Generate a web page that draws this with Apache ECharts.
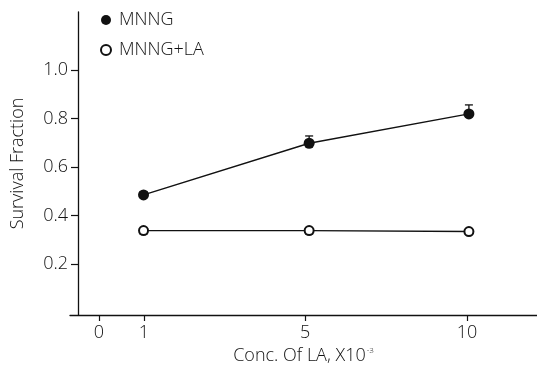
<!DOCTYPE html>
<html>
<head>
<meta charset="utf-8">
<script src="https://cdn.jsdelivr.net/npm/echarts@6/dist/echarts.min.js"></script>
<style>
  html, body { margin: 0; padding: 0; background: #fff; }
  #chart { width: 537px; height: 373px; }
</style>
</head>
<body>
<div id="chart"></div>
<script>
// x axis is hand drawn, not linear: each concentration sits on its own slot
const tickLabels = ['0', '1', '5', '10'];
const tickSlots = [0, 1, 4.58, 8.18];
const concSlots = [0.99, 4.67, 8.22];

const mnng = [0.485, 0.698, 0.819];
const mnngErrUp = [0.012, 0.03, 0.037];
const mnngLa = [0.338, 0.338, 0.334];
const mnngLaErrDown = [0.014, 0.014, 0.01];

const yTicks = [0.2, 0.4, 0.6, 0.8, 1.0];

const FONT = 'Open Sans';
const WEIGHT = 300;
const INK = '#111';

function toPoints(ys) {
    return ys.map((v, i) => [concSlots[i], v]);
}
function toErr(ys, errs, dir) {
    return ys.map((v, i) => [concSlots[i], v, v + dir * errs[i]]);
}

function renderErr(params, api) {
    const x = api.value(0);
    const p0 = api.coord([x, api.value(1)]);
    const p1 = api.coord([x, api.value(2)]);
    const half = 4;
    const style = { stroke: INK, lineWidth: 1.3 };
    return {
        type: 'group',
        children: [
            { type: 'line', shape: { x1: p0[0], y1: p0[1], x2: p1[0], y2: p1[1] }, style: style },
            { type: 'line', shape: { x1: p1[0] - half, y1: p1[1], x2: p1[0] + half, y2: p1[1] }, style: style }
        ]
    };
}

const chart = echarts.init(document.getElementById('chart'));
const options = {
    animation: false,
    textStyle: { fontFamily: FONT, fontWeight: WEIGHT },
    grid: { left: 70, right: 0, top: 12, bottom: 58 },
    legend: {
        orient: 'vertical',
        left: 95,
        top: 6,
        itemGap: 12,
        itemWidth: 10,
        itemHeight: 10,
        textStyle: { fontFamily: FONT, fontWeight: WEIGHT, fontSize: 18, color: INK, padding: [0, 0, 0, 3] },
        data: [
            { name: 'MNNG', icon: 'circle' },
            { name: 'MNNG+LA', icon: 'emptyCircle' }
        ]
    },
    xAxis: {
        type: 'value',
        min: -0.644,
        max: 9.733,
        name: 'Conc. Of LA, X10{sup|-3}',
        nameLocation: 'middle',
        nameGap: 30,
        nameTextStyle: {
            fontFamily: FONT, fontWeight: WEIGHT, fontSize: 18, color: INK,
            rich: { sup: { fontSize: 8, fontWeight: WEIGHT, verticalAlign: 'top', padding: [0, 0, 10, 1], color: INK } }
        },
        splitLine: { show: false },
        axisLine: { onZero: false, lineStyle: { color: INK, width: 1.3 } },
        axisTick: { customValues: tickSlots, length: 6, lineStyle: { color: INK, width: 1.2 } },
        axisLabel: {
            customValues: tickSlots,
            margin: 9,
            fontSize: 18,
            fontWeight: WEIGHT,
            color: INK,
            formatter: function (v) {
                const i = tickSlots.indexOf(v);
                return i >= 0 ? tickLabels[i] : '';
            }
        }
    },
    yAxis: {
        type: 'value',
        min: -0.01,
        max: 1.239,
        offset: -8,
        name: 'Survival Fraction',
        nameLocation: 'middle',
        nameGap: 51,
        nameTextStyle: { fontFamily: FONT, fontWeight: WEIGHT, fontSize: 18, color: INK },
        splitLine: { show: false },
        axisLine: { show: true, onZero: false, lineStyle: { color: INK, width: 1.3 } },
        axisTick: { customValues: yTicks, length: 7, lineStyle: { color: INK, width: 1.2 } },
        axisLabel: {
            customValues: yTicks,
            margin: 10,
            fontSize: 18,
            fontWeight: WEIGHT,
            color: INK,
            formatter: function (v) { return v.toFixed(1); }
        }
    },
    series: [
        {
            type: 'custom',
            renderItem: renderErr,
            data: toErr(mnng, mnngErrUp, 1),
            z: 1,
            silent: true
        },
        {
            type: 'custom',
            renderItem: renderErr,
            data: toErr(mnngLa, mnngLaErrDown, -1),
            z: 1,
            silent: true
        },
        {
            name: 'MNNG',
            type: 'line',
            data: toPoints(mnng),
            symbol: 'circle',
            symbolSize: 11,
            z: 3,
            itemStyle: { color: INK },
            lineStyle: { color: INK, width: 1.4 }
        },
        {
            name: 'MNNG+LA',
            type: 'line',
            data: toPoints(mnngLa),
            symbol: 'emptyCircle',
            symbolSize: 9,
            z: 3,
            itemStyle: { color: INK, borderWidth: 1.5 },
            lineStyle: { color: INK, width: 1.4 }
        }
    ]
};
chart.setOption(options);
</script>
</body>
</html>
